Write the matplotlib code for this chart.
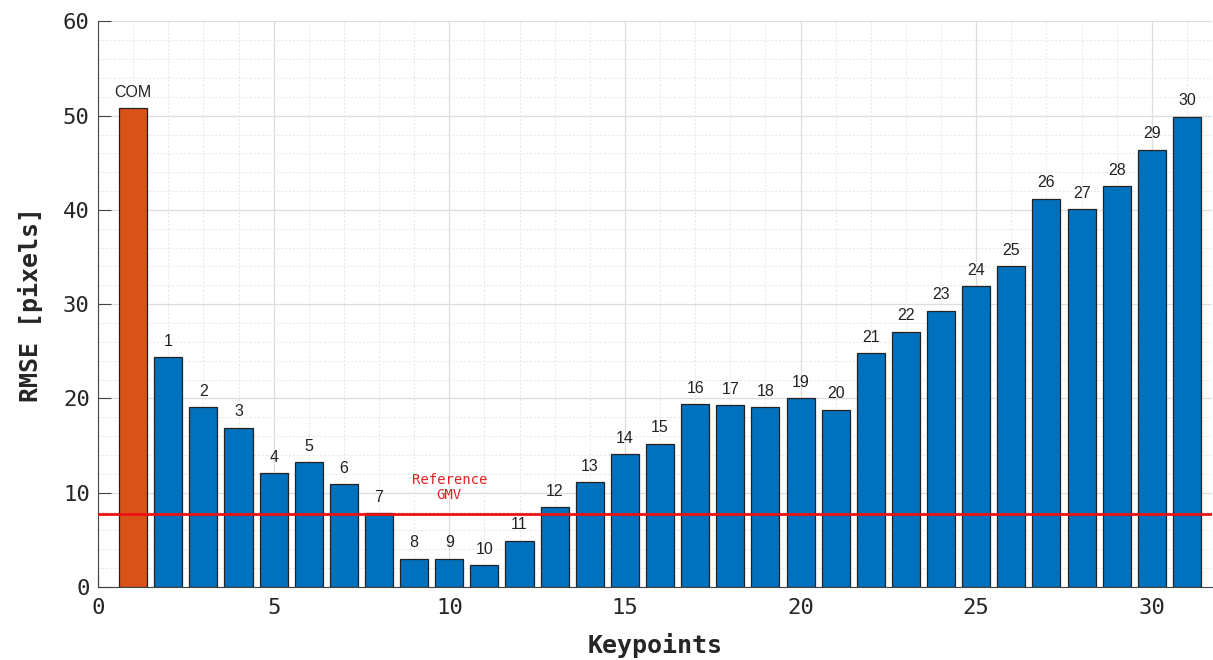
import matplotlib.pyplot as plt
import numpy as np

# RMSE per keypoint (first bar is the centre of mass)
labels = ['COM'] + [str(i) for i in range(1, 31)]
rmse = [50.8, 24.4, 19.1, 16.9, 12.1, 13.25, 10.9, 7.85, 3.0, 3.0, 2.3,
        4.9, 8.5, 11.1, 14.1, 15.2, 19.4, 19.3, 19.1, 20.0, 18.8,
        24.8, 27.1, 29.3, 31.9, 34.0, 41.2, 40.1, 42.5, 46.4, 49.9]
gmv_ref = 7.75

x = np.arange(1, len(rmse) + 1)
colors = ['#D95319'] + ['#0072BD'] * (len(rmse) - 1)

fig = plt.figure(figsize=(12.13, 6.6), dpi=100)
ax = fig.add_axes([0.0808, 0.1106, 0.918, 0.857])

ax.bar(x, rmse, width=0.8, color=colors, edgecolor='#222222', linewidth=0.9, zorder=2)
for xi, v, lab in zip(x, rmse, labels):
    ax.annotate(lab, (xi, v), xytext=(0, 6), textcoords='offset points',
                ha='center', va='bottom', fontsize=11.5, family='Liberation Sans',
                color='#222222')

ax.axhline(gmv_ref, color='#EE1111', linewidth=2, zorder=3)
ax.text(10, 9.0, 'Reference\nGMV', color='#DD2222', ha='center', va='bottom',
        fontsize=10, family='DejaVu Sans Mono', linespacing=1.15)

ax.set_xlim(0, 31.7)
ax.set_ylim(0, 60)
ax.set_xticks(np.arange(0, 31, 5))
ax.set_yticks(np.arange(0, 61, 10))
ax.set_xticks(np.arange(0, 32, 1), minor=True)
ax.set_yticks(np.arange(0, 61, 2), minor=True)
ax.grid(which='major', color='#DDDDDD', linewidth=0.9, zorder=0)
ax.grid(which='minor', color='#E6E6E6', linewidth=0.7, linestyle=(0, (2, 2)), zorder=0)
ax.set_axisbelow(True)

ax.tick_params(which='major', direction='in', length=9, labelsize=16, color='#444444',
               labelcolor='#262626')
ax.tick_params(axis='x', which='major', pad=8)
ax.tick_params(axis='y', which='major', pad=6)
ax.tick_params(which='minor', length=0)
for t in ax.get_xticklabels() + ax.get_yticklabels():
    t.set_family('DejaVu Sans Mono')

ax.spines['top'].set_visible(False)
ax.spines['right'].set_visible(False)
ax.spines['left'].set_color('#444444')
ax.spines['bottom'].set_color('#444444')

ax.set_xlabel('Keypoints', fontsize=18, fontweight='bold', family='DejaVu Sans Mono',
              color='#262626', labelpad=11)
ax.set_ylabel('RMSE [pixels]', fontsize=18, fontweight='bold', family='DejaVu Sans Mono',
              color='#262626', labelpad=14)

fig.savefig('out.png', dpi=100)
